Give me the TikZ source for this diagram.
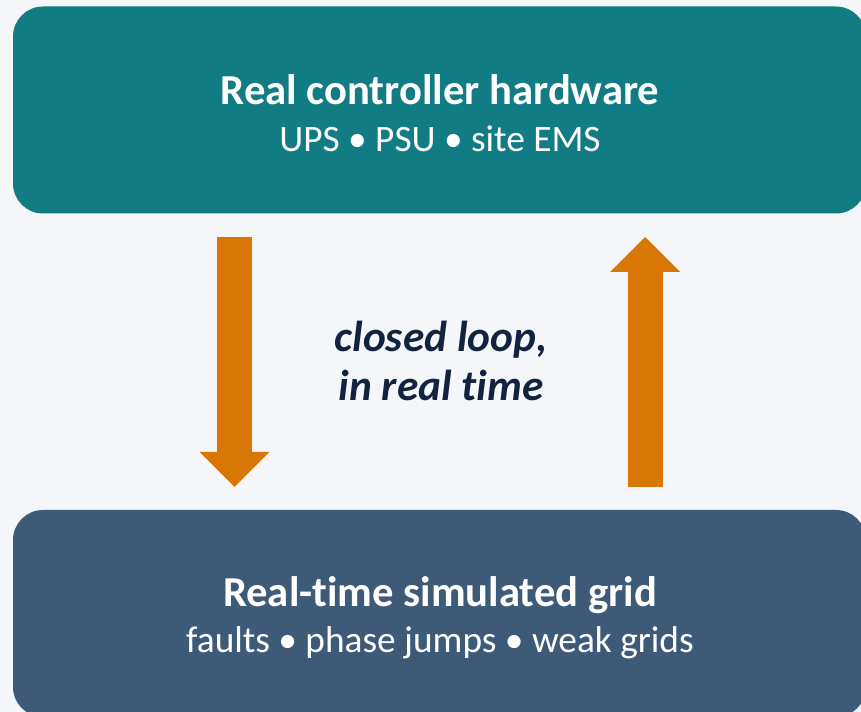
\documentclass[tikz,border=0pt]{standalone}
\usepackage{fontspec}
\setmainfont{Carlito}[Ligatures={CommonOff,ContextualOff,RareOff},RawFeature={-clig}]
\usetikzlibrary{arrows.meta}
\definecolor{pagebg}{HTML}{F4F6FA}
\definecolor{hwteal}{HTML}{117C84}
\definecolor{gridslate}{HTML}{3D5B79}
\definecolor{loopamber}{HTML}{D97706}
\definecolor{loopink}{HTML}{13223F}

\begin{document}
\begin{tikzpicture}[x=0.75pt,y=-0.75pt,
  blockbox/.style={rectangle,rounded corners=22.5pt,minimum width=639.75pt,
    minimum height=155.25pt,inner sep=0pt},
  headtext/.style={anchor=base,text=white,font=\fontsize{32}{38}\selectfont\bfseries},
  subtext/.style={anchor=base,text=white,font=\fontsize{28}{34}\selectfont},
  looptext/.style={anchor=base,text=loopink,font=\fontsize{32.5}{38}\selectfont\bfseries\itshape},
  flow/.style={draw=loopamber,line width=26.25pt,
    -{Triangle[width=52.5pt,length=26.25pt,line width=0pt]}}]
\fill[pagebg] (0,0) rectangle (861,712);
\useasboundingbox (0,0) rectangle (861,712);
% the two blocks
\node[blockbox,fill=hwteal] (hw) at (439.5,110) {};
\node[blockbox,fill=gridslate] (grid) at (439.5,613.5) {};
\node[headtext] (hwTitle) at (440,105) {Real controller hardware};
\node[subtext] (hwList) at (440,152) {UPS • PSU • site EMS};
\node[headtext] (gridTitle) at (440,607) {Real-time simulated grid};
\node[subtext] (gridList) at (440,653) {faults • phase jumps • weak grids};
% loop in the middle
\node[looptext] (loopA) at (441,352) {closed loop,};
\node[looptext] (loopB) at (441,401) {in real time};
\coordinate (dnStart) at (234.5,237);
\coordinate (dnEnd) at (234.5,487);
\coordinate (upStart) at (645,487);
\coordinate (upEnd) at (645,237);
\draw[flow] (dnStart) -- (dnEnd);
\draw[flow] (upStart) -- (upEnd);
\end{tikzpicture}
\end{document}
